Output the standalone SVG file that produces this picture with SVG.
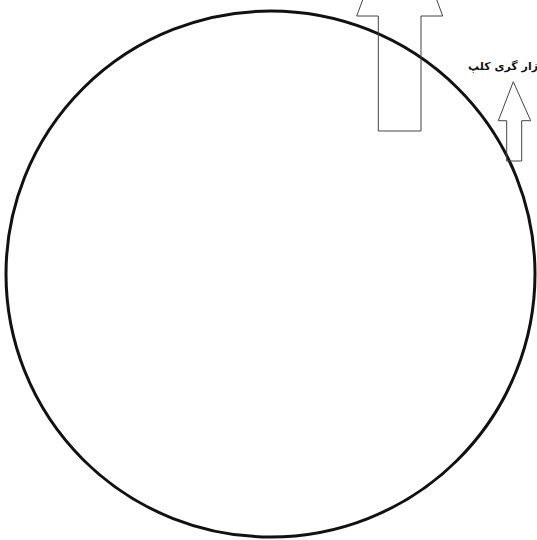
<svg xmlns="http://www.w3.org/2000/svg" width="537" height="540" viewBox="0 0 537 540">
<style>
.arrow{fill:none;stroke:#444;stroke-width:1}
.lbl{font-family:"DejaVu Sans","Noto Sans",sans-serif;font-size:11px;font-weight:bold;fill:#111}
</style>
<rect width="537" height="540" fill="#fff"/>
<g id="circle">
<ellipse cx="270.5" cy="274" rx="264.5" ry="263" fill="none" stroke="#111" stroke-width="3"/>
</g>
<g id="connectors">
<polygon id="bigArrow" class="arrow" points="378.3,131 378.3,16 356.7,16 400,-100 442.7,16 421,16 421,131"/>
<polygon id="smallArrow" class="arrow" points="506.7,161 506.7,120.7 498.3,120.7 513.3,81.7 530.7,120.7 521.7,120.7 521.7,161"/>
</g>
<g id="label">
<text class="lbl" x="538" y="70" direction="rtl" text-anchor="start">زار گری کلپ</text>
</g>
</svg>
